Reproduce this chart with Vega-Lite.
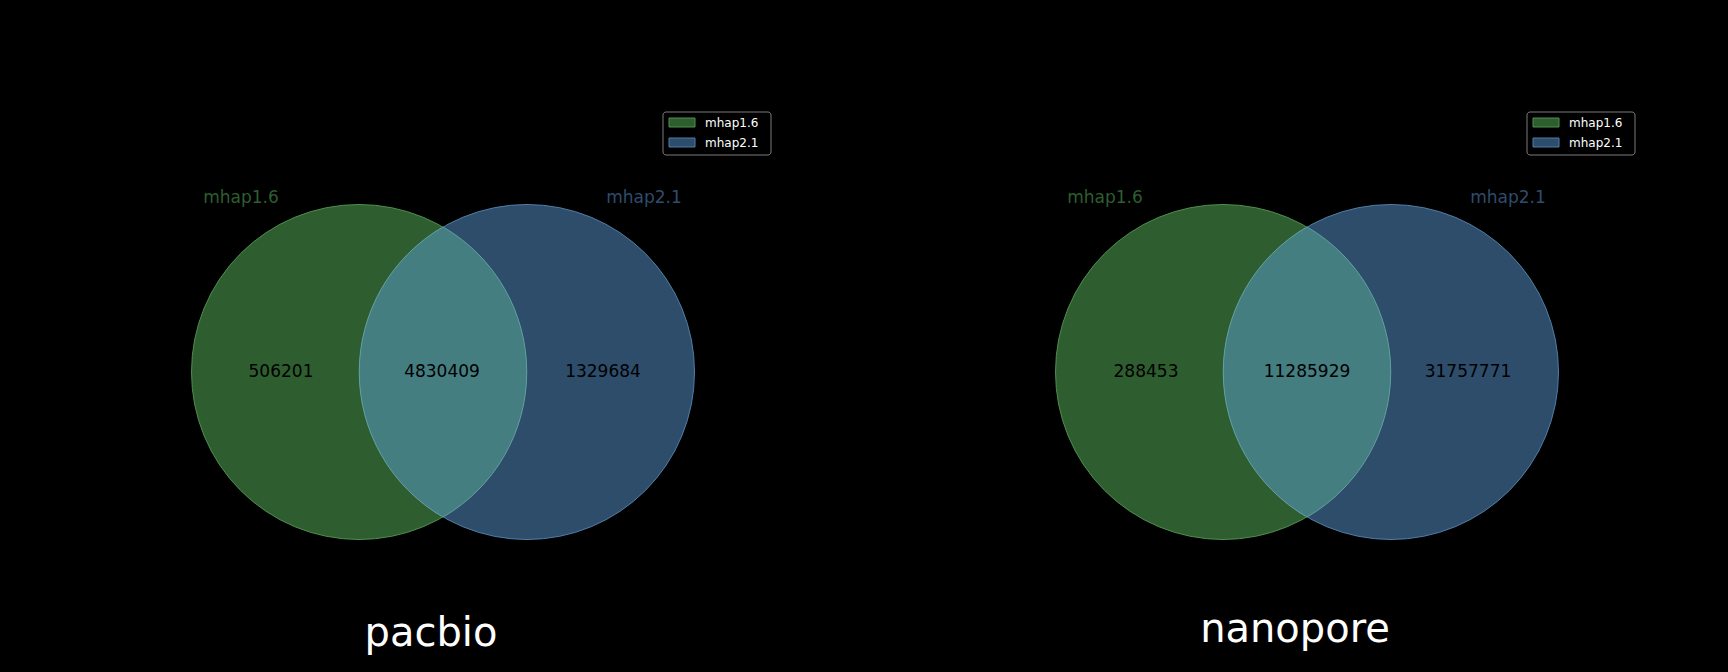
{
  "$schema": "https://vega.github.io/schema/vega-lite/v6.json",
  "width": 1728,
  "height": 672,
  "autosize": {"type": "fit", "contains": "padding"},
  "padding": 0,
  "background": "#000000",
  "config": {"view": {"stroke": null}, "font": "DejaVu Sans"},
  "datasets": {
    "circles": [
      {"panel": "pacbio", "set": "mhap1.6", "x": 359, "y": 372},
      {"panel": "pacbio", "set": "mhap2.1", "x": 527, "y": 372},
      {"panel": "nanopore", "set": "mhap1.6", "x": 1223, "y": 372},
      {"panel": "nanopore", "set": "mhap2.1", "x": 1391, "y": 372}
    ],
    "lens": [
      {"panel": "pacbio", "x": 443, "y": 372},
      {"panel": "nanopore", "x": 1307, "y": 372}
    ],
    "counts": [
      {"panel": "pacbio", "region": "mhap1.6 only", "x": 281, "y": 372, "count": "506201"},
      {"panel": "pacbio", "region": "both", "x": 442, "y": 372, "count": "4830409"},
      {"panel": "pacbio", "region": "mhap2.1 only", "x": 603, "y": 372, "count": "1329684"},
      {"panel": "nanopore", "region": "mhap1.6 only", "x": 1146, "y": 372, "count": "288453"},
      {"panel": "nanopore", "region": "both", "x": 1307, "y": 372, "count": "11285929"},
      {"panel": "nanopore", "region": "mhap2.1 only", "x": 1468, "y": 372, "count": "31757771"}
    ],
    "setlabels": [
      {"panel": "pacbio", "set": "mhap1.6", "x": 241, "y": 198},
      {"panel": "pacbio", "set": "mhap2.1", "x": 644, "y": 198},
      {"panel": "nanopore", "set": "mhap1.6", "x": 1105, "y": 198},
      {"panel": "nanopore", "set": "mhap2.1", "x": 1508, "y": 198}
    ],
    "titles": [
      {"panel": "pacbio", "x": 431, "y": 634},
      {"panel": "nanopore", "x": 1295, "y": 630}
    ],
    "legendframe": [
      {"panel": "pacbio", "x1": 663, "x2": 771, "y1": 112, "y2": 155},
      {"panel": "nanopore", "x1": 1527, "x2": 1635, "y1": 112, "y2": 155}
    ],
    "legenditems": [
      {"panel": "pacbio", "set": "mhap1.6", "x1": 669, "x2": 695, "y1": 118, "y2": 127, "tx": 705, "ty": 123},
      {"panel": "pacbio", "set": "mhap2.1", "x1": 669, "x2": 695, "y1": 138, "y2": 147, "tx": 705, "ty": 143},
      {"panel": "nanopore", "set": "mhap1.6", "x1": 1533, "x2": 1559, "y1": 118, "y2": 127, "tx": 1569, "ty": 123},
      {"panel": "nanopore", "set": "mhap2.1", "x1": 1533, "x2": 1559, "y1": 138, "y2": 147, "tx": 1569, "ty": 143}
    ]
  },
  "layer": [
    {
      "data": {"name": "circles"},
      "mark": {"type": "point", "shape": "circle", "filled": true, "size": 112225, "opacity": 1, "strokeWidth": 1},
      "encoding": {
        "x": {"field": "x", "type": "quantitative", "scale": {"domain": [0, 1728], "nice": false, "zero": false}, "axis": null},
        "y": {"field": "y", "type": "quantitative", "scale": {"domain": [0, 672], "nice": false, "zero": false, "reverse": true}, "axis": null},
        "color": {"field": "set", "type": "nominal", "scale": {"domain": ["mhap1.6", "mhap2.1"], "range": ["#2e5e2f", "#2e4d6b"]}, "legend": null},
        "stroke": {"field": "set", "type": "nominal", "scale": {"domain": ["mhap1.6", "mhap2.1"], "range": ["#4f8f4f", "#4f7fa8"]}, "legend": null}
      }
    },
    {
      "data": {"name": "lens"},
      "mark": {"type": "point", "shape": "M0,-0.866A1,1,0,0,1,0,0.866A1,1,0,0,1,0,-0.866Z", "filled": true, "size": 112225, "opacity": 1, "fill": "#457e80", "stroke": "#62a0a0", "strokeWidth": 1},
      "encoding": {
        "x": {"field": "x", "type": "quantitative"},
        "y": {"field": "y", "type": "quantitative"}
      }
    },
    {
      "data": {"name": "counts"},
      "mark": {"type": "text", "fontSize": 17, "color": "#000000", "align": "center", "baseline": "middle"},
      "encoding": {
        "x": {"field": "x", "type": "quantitative"},
        "y": {"field": "y", "type": "quantitative"},
        "text": {"field": "count"}
      }
    },
    {
      "data": {"name": "setlabels"},
      "mark": {"type": "text", "fontSize": 17, "align": "center", "baseline": "middle"},
      "encoding": {
        "x": {"field": "x", "type": "quantitative"},
        "y": {"field": "y", "type": "quantitative"},
        "text": {"field": "set"},
        "color": {"field": "set", "type": "nominal", "legend": null}
      }
    },
    {
      "data": {"name": "titles"},
      "mark": {"type": "text", "fontSize": 40, "color": "#ffffff", "align": "center", "baseline": "middle"},
      "encoding": {
        "x": {"field": "x", "type": "quantitative"},
        "y": {"field": "y", "type": "quantitative"},
        "text": {"field": "panel"}
      }
    },
    {
      "data": {"name": "legendframe"},
      "mark": {"type": "rect", "fill": "#000000", "stroke": "#7a7a7a", "strokeWidth": 1, "cornerRadius": 3},
      "encoding": {
        "x": {"field": "x1", "type": "quantitative"},
        "x2": {"field": "x2"},
        "y": {"field": "y1", "type": "quantitative"},
        "y2": {"field": "y2"}
      }
    },
    {
      "data": {"name": "legenditems"},
      "mark": {"type": "rect", "strokeWidth": 1},
      "encoding": {
        "x": {"field": "x1", "type": "quantitative"},
        "x2": {"field": "x2"},
        "y": {"field": "y1", "type": "quantitative"},
        "y2": {"field": "y2"},
        "color": {"field": "set", "type": "nominal", "legend": null},
        "stroke": {"field": "set", "type": "nominal", "legend": null}
      }
    },
    {
      "data": {"name": "legenditems"},
      "mark": {"type": "text", "fontSize": 12, "color": "#ffffff", "align": "left", "baseline": "middle"},
      "encoding": {
        "x": {"field": "tx", "type": "quantitative"},
        "y": {"field": "ty", "type": "quantitative"},
        "text": {"field": "set"}
      }
    }
  ]
}
